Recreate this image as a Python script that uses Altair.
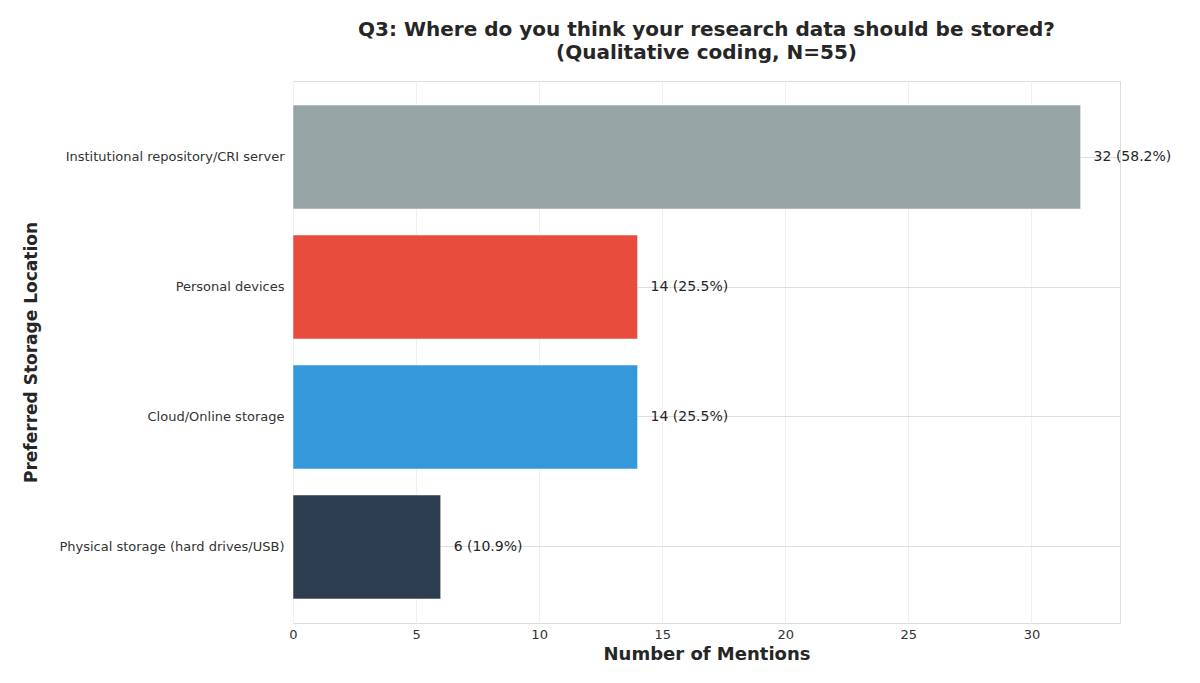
import altair as alt
import pandas as pd

categories = ["Institutional repository/CRI server", "Personal devices",
              "Cloud/Online storage", "Physical storage (hard drives/USB)"]
counts = [32, 14, 14, 6]
percents = [58.2, 25.5, 25.5, 10.9]
colors = ["#95A5A6", "#E74C3C", "#3498DB", "#2C3E50"]

df = pd.DataFrame({
    "cat": categories,
    "count": counts,
    "label": [f"{c} ({p}%)" for c, p in zip(counts, percents)],
})

font = "DejaVu Sans"

y_enc = alt.Y("cat:N", sort=categories,
              scale=alt.Scale(paddingInner=0.2, paddingOuter=0.185),
              axis=alt.Axis(title="Preferred Storage Location", titleFontSize=17,
                            titleFontWeight="bold", titleColor="#262626",
                            labelFontSize=13, labelColor="#333333", labelLimit=400,
                            ticks=False, domain=False, grid=True, gridColor="#dedede",
                            bandPosition=0.5, labelPadding=9, titlePadding=53))

x_enc = alt.X("count:Q",
              scale=alt.Scale(domain=[0, 33.6], nice=False),
              axis=alt.Axis(title="Number of Mentions", titleFontSize=18,
                            titleFontWeight="bold", titleColor="#262626",
                            labelFontSize=13, labelColor="#333333", labelFlush=False,
                            values=[0, 5, 10, 15, 20, 25, 30],
                            ticks=False, domain=False, grid=True, gridColor="#f0f0f0",
                            labelPadding=5, titlePadding=4))

bars = alt.Chart(df).mark_bar(stroke="white", strokeWidth=0.5).encode(
    x=x_enc, y=y_enc,
    color=alt.Color("cat:N", scale=alt.Scale(domain=categories, range=colors), legend=None),
)

text = alt.Chart(df).mark_text(align="left", baseline="middle", dx=13, fontSize=14,
                               color="#262626", font=font).encode(
    x="count:Q", y=alt.Y("cat:N", sort=categories), text="label:N")

chart = alt.layer(bars, text).properties(
    width=827, height=542,
    title=alt.TitleParams(["Q3: Where do you think your research data should be stored?",
                           "(Qualitative coding, N=55)"],
                          fontSize=20, fontWeight="bold", color="#262626",
                          anchor="middle", offset=18, lineHeight=23),
    padding={"left": 14, "top": 12, "right": 5, "bottom": 5},
).configure(font=font).configure_view(stroke="#dddddd", strokeWidth=1)

chart.save("out.html", embed_options={"renderer": "svg", "actions": False})
